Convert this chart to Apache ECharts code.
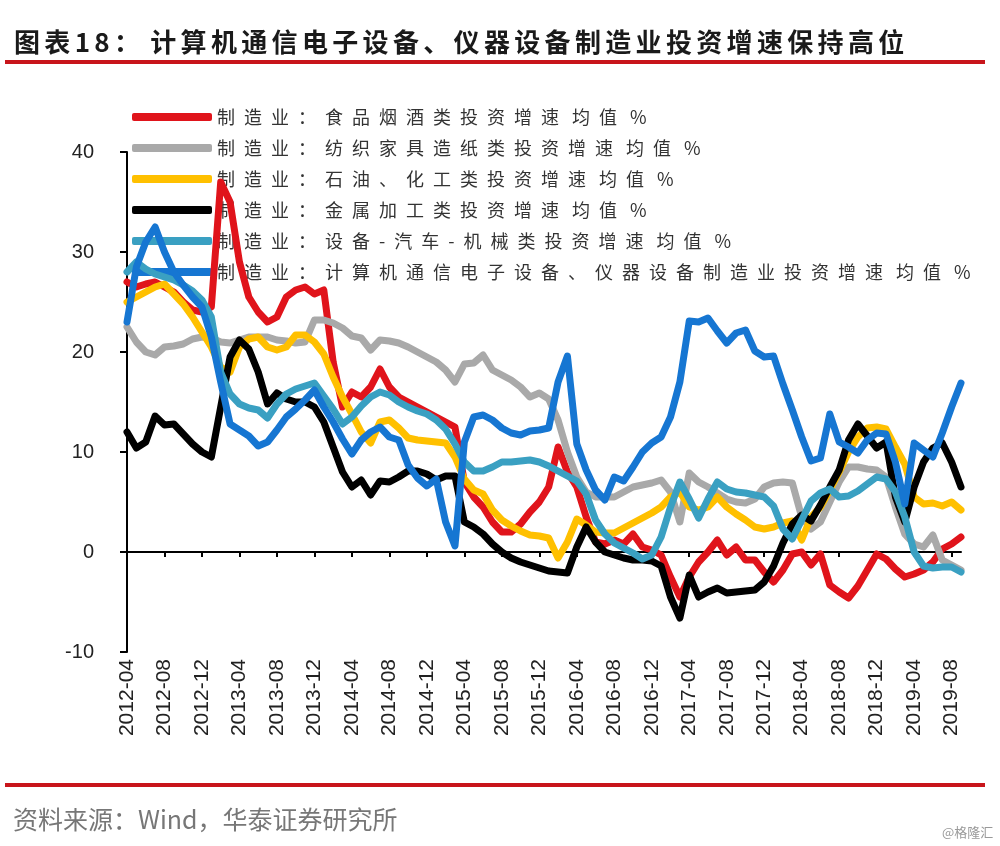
<!DOCTYPE html>
<html>
<head>
<meta charset="utf-8">
<script src="https://cdn.jsdelivr.net/npm/echarts@6/dist/echarts.min.js"></script>
<style>
html,body{margin:0;padding:0;background:#fff;}
#chart{width:1000px;height:846px;}
</style>
</head>
<body>
<div id="chart"></div>
<script>
const titleText = '图表18： 计算机通信电子设备、仪器设备制造业投资增速保持高位';
const sourceText = '资料来源：Wind，华泰证券研究所';
const watermarkText = '@格隆汇';

const startYear = 2012, startMonth = 4, endYear = 2019, endMonth = 9;
const months = [];
for (let y = startYear, m = startMonth; y < endYear || (y === endYear && m <= endMonth); ) {
  months.push(y + '-' + (m < 10 ? '0' + m : '' + m));
  m++; if (m > 12) { m = 1; y++; }
}

const seriesNames = [
  '制造业：食品烟酒类投资增速 均值 %',
  '制造业：纺织家具造纸类投资增速 均值 %',
  '制造业：石油、化工类投资增速 均值 %',
  '制造业：金属加工类投资增速 均值 %',
  '制造业：设备-汽车-机械类投资增速 均值 %',
  '制造业：计算机通信电子设备、仪器设备制造业投资增速 均值 %'
];
const seriesColors = ['#e0141b', '#a9a9a9', '#ffc000', '#000000', '#3aa0c2', '#1676d2'];

const foodData = [
  27, 26.5, 26.8, 27, 26.5, 26, 25, 24.2, 24, 24.5,
  37, 35, 29, 25.5, 24, 23, 23.5, 25.5, 26.2, 26.5,
  25.8, 26.2, 19, 14.5, 16, 15.5, 16.5, 18.3, 16.5, 15.5,
  15, 14.5, 14, 13.5, 13, 12.5, 7, 5.5, 4.5, 3,
  2, 2, 2.8, 4, 5, 6.5, 10.5, 8, 6.5, 3.5,
  1, 0.8, 1.2, 0.8, 1.8, 0.5, 0.2, -0.3, -2.5, -4.5,
  -2.5, -1, 0, 1.2, -0.3, 0.5, -0.8, -0.8, -2, -3,
  -1.8, -0.2, 0, -1.3, -0.2, -3.3, -4, -4.6, -3.4, -1.8,
  -0.2, -0.7, -1.7, -2.5, -2.2, -1.8, -1, 0.3, 0.8, 1.5
];
const textileData = [
  22.5, 21, 20, 19.7, 20.5, 20.6, 20.8, 21.3, 21.5, 21.4,
  21, 20.9, 21.2, 21.5, 21.5, 21.5, 21.2, 21.1, 20.9, 21,
  23.2, 23.2, 22.9, 22.4, 21.6, 21.4, 20.2, 21.2, 21.1, 20.9,
  20.5, 20, 19.5, 19, 18.2, 17, 18.8, 18.9, 19.7, 18.2,
  17.7, 17.2, 16.5, 15.5, 15.9, 15.3, 13.2, 10, 7.5, 6,
  5.5, 5.5, 5.5, 6, 6.5, 6.7, 6.9, 7.2, 6, 3,
  7.9, 7, 6.5, 5.9, 5.3, 5, 4.9, 5.3, 6.5, 6.9,
  7, 6.9, 3.5, 2.3, 3, 5, 7, 8.5, 8.5, 8.3,
  8.2, 7.5, 4.5, 1.8, 0.8, 0.5, 1.7, -0.8, -1.3, -1.8
];
const petroData = [
  25, 25.5, 26, 26.5, 26.8, 25.8, 24.8, 23.5, 22, 20.5,
  18.5, 18, 20.5, 21.3, 21.5, 20.5, 20.2, 20.5, 21.7, 21.7,
  21, 19.8, 17.5, 15.5, 13.8, 12, 10.9, 13, 13.2, 12.4,
  11.4, 11.2, 11.1, 11, 10.9, 9.5, 7.3, 6.2, 5.8, 4.2,
  3.2, 2.6, 2.1, 1.7, 1.6, 1.4, -0.6, 1, 3.3, 2.7,
  2, 1.9, 1.9, 2.4, 2.9, 3.4, 3.9, 4.5, 5.5, 6,
  4.5, 4.2, 4.5, 5.5, 4.5, 3.8, 3.2, 2.5, 2.3, 2.5,
  2.9, 3.1, 1.2, 3.5, 4.5, 6.2, 8, 10, 11.5, 12.4,
  12.5, 12.3, 10.5, 8.8, 5.5, 4.8, 4.9, 4.6, 5, 4.2
];
const metalData = [
  12, 10.4, 11, 13.6, 12.7, 12.8, 11.8, 10.8, 10, 9.5,
  14.5, 19.5, 21.2, 20.3, 18, 14.8, 15.9, 15.3, 15, 15,
  14.5, 13, 10.5, 8, 6.5, 7.2, 5.7, 7.1, 7, 7.5,
  8.1, 8.1, 7.8, 7.2, 7.6, 7.6, 3, 2.5, 1.8, 0.8,
  0, -0.6, -1, -1.3, -1.6, -1.9, -2, -2.1, 0.5, 2.5,
  1, 0, -0.3, -0.6, -0.8, -0.8, -0.9, -1.4, -4.5, -6.6,
  -2.3, -4.5, -4, -3.6, -4.1, -4, -3.9, -3.8, -3, -1.4,
  0.9, 2.8, 3.7, 3.1, 4.7, 6.5, 8.2, 11.2, 12.8, 11.6,
  10.4, 11, 5.5, 3, 6.5, 9, 10.4, 10.9, 9, 6.5
];
const equipData = [
  28, 29, 28.3, 27.8, 27.5, 27.2, 26.7, 26.1, 25.2, 23.5,
  18, 15.8, 14.8, 14.4, 14.2, 13.4, 14.8, 15.8, 16.3, 16.6,
  16.9, 15.6, 14.3, 12.8, 13.5, 14.6, 15.5, 16, 15.7, 15,
  14.5, 14.1, 13.8, 13.2, 12.3, 10.8, 9, 8.1, 8.1, 8.5,
  9, 9, 9.1, 9.2, 9, 8.6, 8.1, 7.6, 7.1, 5.8,
  3.2, 1.8, 0.9, 0.4, -0.1, -0.7, -0.3, 1.5, 4.5, 7,
  5.3, 3.4, 5.3, 7, 6.3, 6, 5.9, 5.7, 5.5, 4.6,
  2.3, 1.3, 3.2, 5.1, 5.9, 6.3, 5.5, 5.6, 6.1, 6.8,
  7.5, 7.3, 6, 3.5, 0, -1.4, -1.6, -1.5, -1.5, -2
];
const elecData = [
  23, 28.5, 31, 32.5, 30, 28, 26.7, 25.5, 24.5, 21.5,
  17, 12.8, 12.2, 11.6, 10.6, 11, 12.2, 13.5, 14.3, 15.2,
  16.2, 14.5, 13, 11.3, 9.8, 11.2, 12, 12.5, 11.5, 11.2,
  8.7, 7.4, 6.6, 7.3, 3, 0.6, 11, 13.5, 13.7, 13.2,
  12.4, 11.9, 11.7, 12.1, 12.2, 12.4, 17, 19.6, 10.8, 8.2,
  6.2, 5.2, 7.5, 7.1, 8.5, 10, 10.9, 11.5, 13.5, 17,
  23.1, 23, 23.4, 22.1, 20.9, 21.9, 22.2, 20.1, 19.5, 19.6,
  16.8, 14.2, 11.5, 9.1, 9.4, 13.8, 11, 10.5, 9.9, 11.2,
  11.9, 11.8, 9, 4.8, 10.9, 10.2, 9.5, 11.9, 14.5, 16.9
];
const seriesData = [foodData, textileData, petroData, metalData, equipData, elecData];
const yTicks = [-10, 0, 10, 20, 30, 40];

function spread(s, sp) {
  const ch = Array.from(s);
  let out = '';
  for (let i = 0; i < ch.length; i++) {
    out += ch[i];
    if (i < ch.length - 1 && ch[i] !== ' ') out += sp;
  }
  return out;
}

const chart = echarts.init(document.getElementById('chart'), null, { renderer: 'canvas' });

const series = seriesNames.map((name, i) => ({
  name: name,
  type: 'line',
  data: seriesData[i],
  xAxisIndex: 0,
  yAxisIndex: 0,
  symbol: 'none',
  showSymbol: false,
  smooth: false,
  z: 3,
  color: seriesColors[i],
  lineStyle: { width: 7, color: seriesColors[i], cap: 'round', join: 'round' },
  itemStyle: { color: seriesColors[i] },
  animation: false
}));

chart.setOption({
  animation: false,
  backgroundColor: '#ffffff',
  grid: { left: 127, right: 39, top: 152, bottom: 194, containLabel: false },
  legend: {
    data: seriesNames,
    orient: 'vertical',
    left: 127,
    top: 102,
    z: 1,
    icon: 'roundRect',
    itemWidth: 80,
    itemHeight: 8,
    itemGap: 11,
    formatter: function (n) { return spread(n, '\u2002'); },
    textStyle: {
      fontFamily: '"Noto Sans CJK SC", sans-serif',
      fontSize: 18,
      lineHeight: 20,
      color: '#333333'
    }
  },
  title: [
    {
      text: spread(titleText, '\u2006'),
      left: 9,
      top: 24,
      textStyle: { fontFamily: '"Noto Sans CJK SC", sans-serif', fontSize: 26, fontWeight: 'bold', color: '#1a1a1a' }
    },
    {
      text: sourceText,
      left: 8,
      top: 802,
      textStyle: { fontFamily: '"Noto Sans CJK SC", sans-serif', fontSize: 25, fontWeight: 'normal', color: '#777777' }
    },
    {
      text: watermarkText,
      left: 937,
      top: 821,
      textStyle: { fontFamily: '"Noto Sans CJK SC", sans-serif', fontSize: 13, fontWeight: 'normal', color: '#999999' }
    }
  ],
  graphic: [
    { type: 'rect', shape: { x: 5, y: 60, width: 980, height: 4 }, style: { fill: '#c8151b' }, silent: true },
    { type: 'rect', shape: { x: 5, y: 783, width: 980, height: 4 }, style: { fill: '#c8151b' }, silent: true }
  ],
  xAxis: [
    {
      type: 'category',
      data: months,
      boundaryGap: false,
      position: 'bottom',
      axisLine: { show: false, onZero: false },
      axisTick: { show: false },
      splitLine: { show: false },
      axisLabel: {
        interval: 3,
        rotate: 90,
        margin: 7,
        fontFamily: '"Liberation Sans", Arial, sans-serif',
        fontSize: 21,
        color: '#222222'
      }
    },
    {
      type: 'category',
      data: months,
      boundaryGap: false,
      position: 'bottom',
      axisLine: { show: true, onZero: true, lineStyle: { color: '#000000', width: 2 } },
      axisTick: { show: true, interval: 3, length: 5, lineStyle: { color: '#000000', width: 2 } },
      axisLabel: { show: false },
      splitLine: { show: false }
    }
  ],
  yAxis: {
    type: 'value',
    min: yTicks[0],
    max: yTicks[yTicks.length - 1],
    interval: 10,
    axisLine: { show: true, onZero: false, lineStyle: { color: '#000000', width: 2 } },
    axisTick: { show: true, length: 7, lineStyle: { color: '#000000', width: 2 } },
    splitLine: { show: false },
    axisLabel: {
      margin: 33,
      fontFamily: '"Liberation Sans", Arial, sans-serif',
      fontSize: 20,
      color: '#222222'
    }
  },
  series: series
});
</script>
</body>
</html>
